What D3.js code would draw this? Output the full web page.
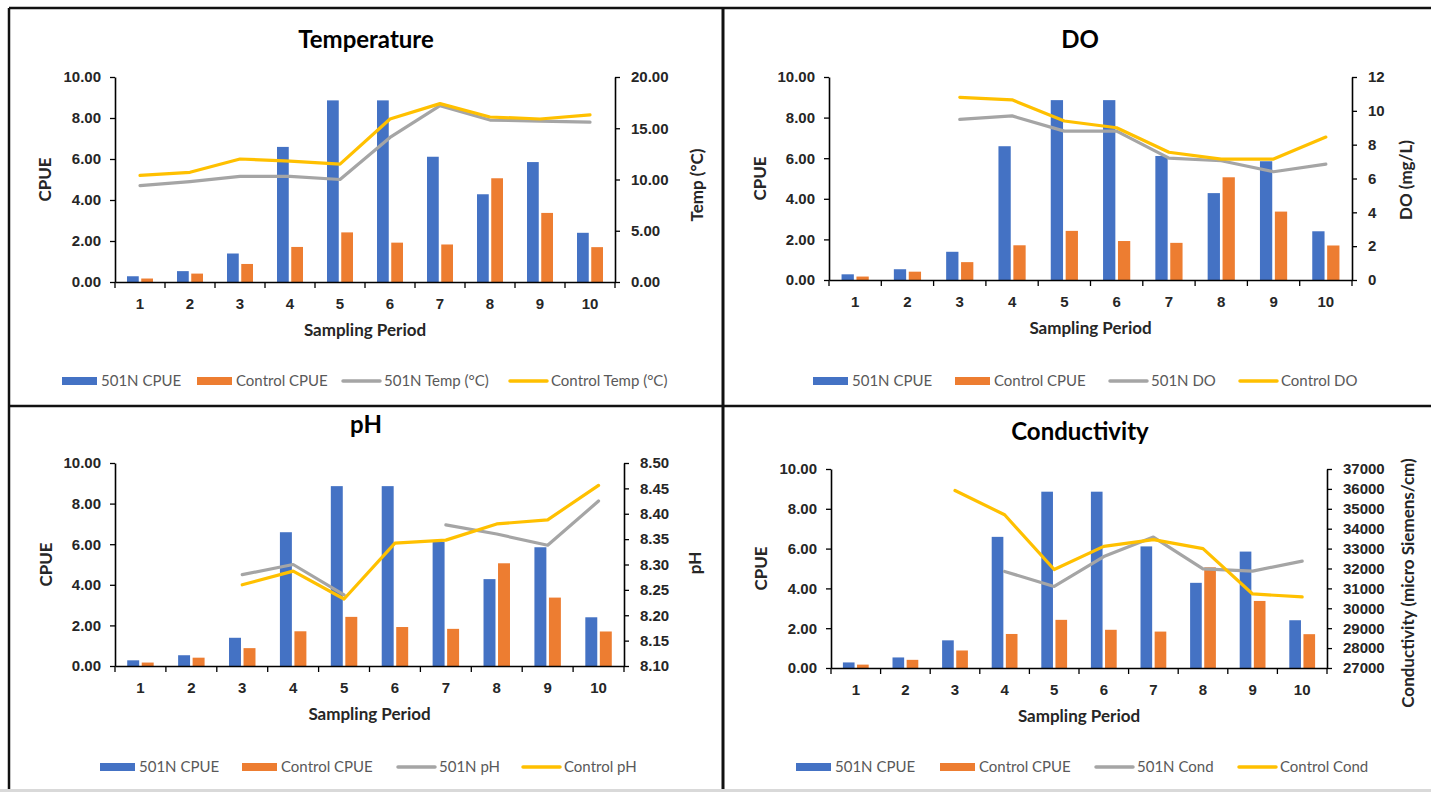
<!DOCTYPE html>
<html>
<head>
<meta charset="utf-8">
<script src="https://cdn.jsdelivr.net/npm/d3@7"></script>
<style>
  html, body { margin: 0; padding: 0; background: #fff; }
  svg { display: block; font-family: Lato, Carlito, "Open Sans", sans-serif; }
</style>
</head>
<body>
<svg id="chart" width="1431" height="792"></svg>
<script>
// Sampling periods shared by every panel
const periods = ["1", "2", "3", "4", "5", "6", "7", "8", "9", "10"];

// Catch per unit effort (left axis, same in all four panels)
const cpue501N    = [0.28, 0.53, 1.39, 6.59, 8.86, 8.86, 6.11, 4.28, 5.85, 2.40];
const cpueControl = [0.17, 0.41, 0.88, 1.71, 2.42, 1.92, 1.83, 5.06, 3.37, 1.70];

// Water temperature (°C)
const temp501N    = [9.4, 9.8, 10.3, 10.3, 10.0, 14.1, 17.2, 15.8, 15.7, 15.6];
const tempControl = [10.4, 10.7, 12.0, 11.8, 11.5, 15.9, 17.4, 16.1, 15.9, 16.3];

// Dissolved oxygen (mg/L); null = not sampled
const do501N    = [null, null, 9.5, 9.7, 8.8, 8.8, 7.2, 7.05, 6.4, 6.85];
const doControl = [null, null, 10.8, 10.65, 9.4, 9.0, 7.55, 7.15, 7.15, 8.45];

// pH
const ph501N    = [null, null, 8.28, 8.30, 8.24, null, 8.378, 8.36, 8.338, 8.425];
const phControl = [null, null, 8.26, 8.287, 8.232, 8.342, 8.348, 8.38, 8.388, 8.456];

// Conductivity (micro Siemens/cm)
const cond501N    = [null, null, null, 31850, 31100, 32600, 33580, 31980, 31870, 32370];
const condControl = [null, null, 35920, 34700, 31950, 33110, 33450, 33000, 30720, 30570];

// Axis tick values
const cpueTicks = [0, 2, 4, 6, 8, 10];
const tempTicks = [0, 5, 10, 15, 20];
const doTicks   = [0, 2, 4, 6, 8, 10, 12];
const phTicks   = [8.10, 8.15, 8.20, 8.25, 8.30, 8.35, 8.40, 8.45, 8.50];
const condTicks = [27000, 28000, 29000, 30000, 31000, 32000, 33000, 34000, 35000, 36000, 37000];

const COLORS = { blue: "#4472C4", orange: "#ED7D31", gray: "#A5A5A5", gold: "#FFC000" };
const TEXT = "#262626";

const svg = d3.select("#chart");

function drawPanel(cfg) {
  const g = svg.append("g");
  const x = d3.scaleBand().domain(periods).range([cfg.left, cfg.right]);
  const y = d3.scaleLinear().domain([0, 10]).range([cfg.bottom, cfg.top]);
  const y2 = d3.scaleLinear().domain(cfg.rDomain).range([cfg.bottom, cfg.top]);

  // Clustered bars
  const bw = x.bandwidth() * 0.235;
  const gap = x.bandwidth() * 0.05;
  const mid = p => x(p) + x.bandwidth() / 2;
  g.append("g").selectAll("rect").data(periods).join("rect")
    .attr("x", p => mid(p) - gap / 2 - bw)
    .attr("width", bw)
    .attr("y", (p, i) => y(cpue501N[i]))
    .attr("height", (p, i) => y(0) - y(cpue501N[i]))
    .attr("fill", COLORS.blue);
  g.append("g").selectAll("rect").data(periods).join("rect")
    .attr("x", p => mid(p) + gap / 2)
    .attr("width", bw)
    .attr("y", (p, i) => y(cpueControl[i]))
    .attr("height", (p, i) => y(0) - y(cpueControl[i]))
    .attr("fill", COLORS.orange);

  // Water-quality lines on the secondary axis
  const line = d3.line()
    .defined(d => d.v != null)
    .x(d => mid(d.p))
    .y(d => y2(d.v));
  [[cfg.s501N, COLORS.gray], [cfg.sControl, COLORS.gold]].forEach(([vals, col]) => {
    g.append("path")
      .datum(periods.map((p, i) => ({ p, v: vals[i] })))
      .attr("d", line)
      .attr("fill", "none")
      .attr("stroke", col)
      .attr("stroke-width", 3.2)
      .attr("stroke-linejoin", "round")
      .attr("stroke-linecap", "round");
  });

  // Left axis
  const la = g.append("g").attr("transform", `translate(${cfg.left},0)`)
    .call(d3.axisLeft(y).tickValues(cpueTicks).tickFormat(d3.format(".2f"))
      .tickSize(5).tickSizeOuter(0).tickPadding(9));
  // Right axis
  const ra = g.append("g").attr("transform", `translate(${cfg.right},0)`)
    .call(d3.axisRight(y2).tickValues(cfg.rTicks).tickFormat(cfg.rFmt)
      .tickSize(5).tickSizeOuter(0).tickPadding(11));
  // Category axis: labels at band centres, tick marks on band edges
  const ba = g.append("g").attr("transform", `translate(0,${cfg.bottom})`)
    .call(d3.axisBottom(x).tickSize(0).tickSizeOuter(0).tickPadding(16));
  ba.selectAll(".tick").attr("transform", p => `translate(${mid(p)},0)`);
  const edges = periods.map(p => x(p)).concat([cfg.right]);
  ba.append("g").selectAll("line").data(edges).join("line")
    .attr("x1", d => d).attr("x2", d => d).attr("y1", 0).attr("y2", 6)
    .attr("stroke", "#000").attr("stroke-width", 1.3);

  [la, ra, ba].forEach(a => {
    a.selectAll(".domain").attr("stroke", "#000").attr("stroke-width", 1.6);
    a.selectAll(".tick line").attr("stroke", "#000").attr("stroke-width", 1.3);
    a.selectAll(".tick text").attr("fill", TEXT)
      .style("font-size", "15px").style("font-weight", "bold");
  });

  // Titles
  g.append("text").attr("x", cfg.titleX).attr("y", cfg.titleY)
    .attr("text-anchor", "middle").attr("fill", "#000")
    .style("font-size", "24px").style("font-weight", "bold").text(cfg.title);
  g.append("text").attr("x", (cfg.left + cfg.right) / 2).attr("y", cfg.bottom + 54)
    .attr("text-anchor", "middle").attr("fill", TEXT)
    .style("font-size", "17px").style("font-weight", "bold").text("Sampling Period");
  g.append("text")
    .attr("transform", `translate(${cfg.leftLabelX},${(cfg.top + cfg.bottom) / 2}) rotate(-90)`)
    .attr("text-anchor", "middle").attr("fill", TEXT)
    .style("font-size", "17px").style("font-weight", "bold").text("CPUE");
  g.append("text")
    .attr("transform", `translate(${cfg.rightLabelX},${cfg.rightLabelY}) rotate(-90)`)
    .attr("text-anchor", "middle").attr("fill", TEXT)
    .style("font-size", "17px").style("font-weight", "bold").text(cfg.rightLabel);

  // Legend
  const lg = g.append("g").attr("transform", `translate(0,${cfg.legendY})`);
  const items = [
    { name: "501N CPUE", col: COLORS.blue, bar: true },
    { name: "Control CPUE", col: COLORS.orange, bar: true },
    { name: cfg.legend[0], col: COLORS.gray, bar: false },
    { name: cfg.legend[1], col: COLORS.gold, bar: false }
  ];
  items.forEach((it, i) => {
    const x0 = cfg.legendX[i];
    if (it.bar) {
      lg.append("rect").attr("x", x0).attr("y", -4).attr("width", 35).attr("height", 8).attr("fill", it.col);
    } else {
      lg.append("line").attr("x1", x0).attr("x2", x0 + 37).attr("y1", 0).attr("y2", 0)
        .attr("stroke", it.col).attr("stroke-width", 3.5).attr("stroke-linecap", "round");
    }
    lg.append("text").attr("x", x0 + (it.bar ? 39 : 41)).attr("y", 0).attr("dy", "0.35em")
      .attr("fill", "#595959").style("font-size", "15px").text(it.name);
  });
}

drawPanel({
  title: "Temperature", titleX: 366, titleY: 48,
  left: 115, right: 615, top: 77, bottom: 282,
  rDomain: [0, 20], rTicks: tempTicks, rFmt: d3.format(".2f"),
  s501N: temp501N, sControl: tempControl,
  leftLabelX: 51, rightLabelX: 703, rightLabelY: 185, rightLabel: "Temp (°C)",
  legendY: 381, legendX: [62, 197, 343, 510],
  legend: ["501N Temp (°C)", "Control Temp (°C)"]
});

drawPanel({
  title: "DO", titleX: 1080, titleY: 48,
  left: 829, right: 1352, top: 77, bottom: 280,
  rDomain: [0, 12], rTicks: doTicks, rFmt: d3.format("d"),
  s501N: do501N, sControl: doControl,
  leftLabelX: 766, rightLabelX: 1412, rightLabelY: 180, rightLabel: "DO (mg/L)",
  legendY: 381, legendX: [813, 955, 1110, 1240],
  legend: ["501N DO", "Control DO"]
});

drawPanel({
  title: "pH", titleX: 366, titleY: 433,
  left: 115, right: 624, top: 463, bottom: 666,
  rDomain: [8.10, 8.50], rTicks: phTicks, rFmt: d3.format(".2f"),
  s501N: ph501N, sControl: phControl,
  leftLabelX: 52, rightLabelX: 701, rightLabelY: 563, rightLabel: "pH",
  legendY: 767, legendX: [100, 242, 398, 523],
  legend: ["501N pH", "Control pH"]
});

drawPanel({
  title: "Conductivity", titleX: 1080, titleY: 440,
  left: 831, right: 1327, top: 469, bottom: 668,
  rDomain: [27000, 37000], rTicks: condTicks, rFmt: d3.format("d"),
  s501N: cond501N, sControl: condControl,
  leftLabelX: 767, rightLabelX: 1414, rightLabelY: 583, rightLabel: "Conductivity (micro Siemens/cm)",
  legendY: 767, legendX: [796, 940, 1096, 1239],
  legend: ["501N Cond", "Control Cond"]
});

// Frame around the four panels
const frame = svg.append("g").attr("stroke", "#111").attr("stroke-width", 2.5);
frame.append("line").attr("x1", 9).attr("x2", 1431).attr("y1", 8).attr("y2", 8);
frame.append("line").attr("x1", 9).attr("x2", 9).attr("y1", 8).attr("y2", 790);
frame.append("line").attr("x1", 723).attr("x2", 723).attr("y1", 8).attr("y2", 790).attr("stroke-width", 3);
frame.append("line").attr("x1", 9).attr("x2", 1431).attr("y1", 406).attr("y2", 406);
svg.append("rect").attr("x", 0).attr("y", 789).attr("width", 1431).attr("height", 3).attr("fill", "#d9d9d9");
</script>
</body>
</html>
